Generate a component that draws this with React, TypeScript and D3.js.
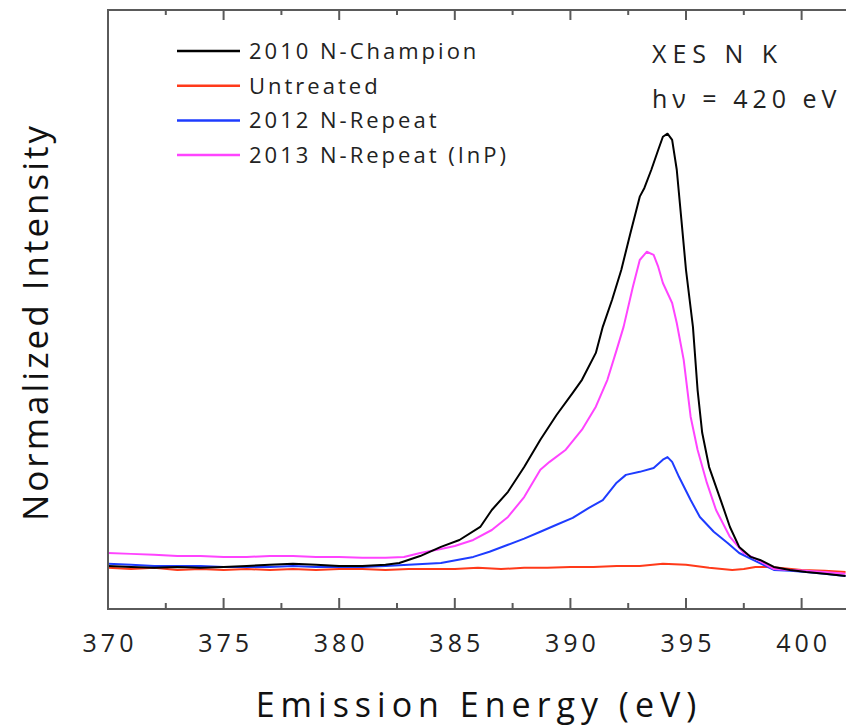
import React from "react";
import * as d3 from "d3";

// ---- data ----
const xTicks = [370, 375, 380, 385, 390, 395, 400];
const xMinorTicks = [372.5, 377.5, 382.5, 387.5, 392.5, 397.5];

const championE = [370, 371, 372, 373, 374, 375, 376, 377, 378, 379, 380, 381, 382, 382.6, 383.5, 384.4, 385.2, 386.1, 386.6, 387.3, 388.0, 388.7, 389.4, 390.1, 390.5, 391.1, 391.4, 391.8, 392.2, 392.6, 393.0, 393.2, 393.5, 393.8, 394.0, 394.2, 394.4, 394.6, 394.8, 395.0, 395.3, 395.5, 395.7, 396.0, 396.5, 396.9, 397.3, 397.8, 398.2, 398.8, 399.5, 400.2, 401, 401.9];
const championI = [0.002, 0, -0.002, 0, -0.002, 0, 0.002, 0.005, 0.007, 0.005, 0.002, 0.002, 0.005, 0.009, 0.025, 0.046, 0.062, 0.092, 0.131, 0.173, 0.23, 0.293, 0.35, 0.401, 0.431, 0.493, 0.553, 0.615, 0.684, 0.77, 0.853, 0.873, 0.915, 0.961, 0.991, 0.998, 0.984, 0.915, 0.8, 0.684, 0.553, 0.408, 0.309, 0.23, 0.154, 0.092, 0.046, 0.023, 0.016, 0, -0.007, -0.012, -0.016, -0.021];

const untreatedE = [370, 371, 372, 373, 374, 375, 376, 377, 378, 379, 380, 381, 382, 383, 384, 385, 386, 387, 388, 389, 390, 391, 392, 393, 394, 395, 396, 397, 397.5, 398, 398.5, 399, 400, 401, 401.9];
const untreatedI = [-0.002, -0.005, -0.002, -0.007, -0.005, -0.007, -0.005, -0.007, -0.005, -0.007, -0.005, -0.005, -0.007, -0.005, -0.005, -0.005, -0.002, -0.005, -0.002, -0.002, 0, 0, 0.002, 0.002, 0.007, 0.005, -0.002, -0.007, -0.005, 0, 0, -0.002, -0.007, -0.009, -0.012];

const repeat2012E = [370, 371, 372, 373, 374, 375, 376, 377, 378, 379, 380, 381, 382, 383, 383.8, 384.4, 385.1, 385.8, 386.5, 387.3, 388.0, 388.7, 389.4, 390.1, 390.8, 391.4, 392.0, 392.4, 393.0, 393.6, 394.0, 394.2, 394.4, 394.7, 395.2, 395.6, 396.2, 396.8, 397.3, 397.9, 398.8, 399.5, 400.2, 401, 401.9];
const repeat2012I = [0.007, 0.005, 0.002, 0.002, 0.002, 0, 0, 0, 0.002, 0, 0, 0, 0.002, 0.005, 0.007, 0.009, 0.016, 0.023, 0.035, 0.051, 0.065, 0.081, 0.097, 0.113, 0.136, 0.154, 0.194, 0.212, 0.219, 0.228, 0.247, 0.253, 0.242, 0.207, 0.154, 0.115, 0.081, 0.055, 0.032, 0.016, -0.007, -0.009, -0.012, -0.016, -0.021];

const repeat2013E = [370, 371, 372, 373, 374, 375, 376, 377, 378, 379, 380, 381, 382, 382.8, 383.5, 384.4, 385.0, 385.8, 386.6, 387.3, 388.0, 388.7, 389.1, 389.8, 390.5, 391.1, 391.6, 392.0, 392.3, 392.7, 393.0, 393.3, 393.6, 393.8, 394.0, 394.4, 394.6, 394.9, 395.2, 395.5, 395.9, 396.3, 396.9, 397.5, 398.1, 398.8, 399.5, 400.2, 401, 401.9];
const repeat2013I = [0.032, 0.03, 0.028, 0.025, 0.025, 0.023, 0.023, 0.025, 0.025, 0.023, 0.023, 0.021, 0.021, 0.023, 0.032, 0.041, 0.048, 0.062, 0.085, 0.115, 0.161, 0.224, 0.242, 0.27, 0.316, 0.369, 0.431, 0.5, 0.553, 0.645, 0.707, 0.726, 0.719, 0.691, 0.654, 0.608, 0.562, 0.477, 0.346, 0.27, 0.194, 0.131, 0.069, 0.032, 0.016, -0.005, -0.007, -0.009, -0.012, -0.016];

const seriesNames = ["2010 N-Champion", "Untreated", "2012 N-Repeat", "2013 N-Repeat (InP)"];
const seriesColors = ["#000000", "#ff3a1a", "#1e3cff", "#ff44ff"];

const W = 846;
const H = 728;
const left = 108;
const right = 846;
const top = 10;
const bottom = 609;
const FONT = "'Open Sans', 'DejaVu Sans', sans-serif";
const AXIS = "#5a5a5a";

export default function App() {
  const x = d3.scaleLinear().domain([370, 401.92]).range([left, right]);
  const y = d3.scaleLinear().domain([-0.097, 1.283]).range([bottom, top]);
  const line = d3
    .line<[number, number]>()
    .x((d) => x(d[0]))
    .y((d) => y(d[1]))
    .curve(d3.curveLinear);

  const series = [
    { e: championE, v: championI },
    { e: untreatedE, v: untreatedI },
    { e: repeat2012E, v: repeat2012I },
    { e: repeat2013E, v: repeat2013I },
  ];
  const drawOrder = [1, 2, 3, 0];

  return (
    <svg
      width={W}
      height={H}
      style={{ position: "absolute", left: 0, top: 0, background: "#fff" }}
    >
      <defs>
        <clipPath id="plot">
          <rect x={left} y={top} width={right - left} height={bottom - top} />
        </clipPath>
      </defs>
      <g clipPath="url(#plot)">
        {drawOrder.map((i) => (
          <path
            key={i}
            d={line(series[i].e.map((e, k) => [e, series[i].v[k]] as [number, number])) || ""}
            fill="none"
            stroke={seriesColors[i]}
            strokeWidth={2}
            strokeLinejoin="round"
          />
        ))}
      </g>

      {/* frame */}
      <line x1={left} x2={right} y1={top} y2={top} stroke={AXIS} strokeWidth={2} />
      <line x1={left} x2={right} y1={bottom} y2={bottom} stroke={AXIS} strokeWidth={2} />
      <line x1={left} x2={left} y1={top - 1} y2={bottom + 1} stroke={AXIS} strokeWidth={2} />

      {/* ticks */}
      {xTicks.map((t) => (
        <g key={"M" + t}>
          <line x1={x(t)} x2={x(t)} y1={bottom} y2={bottom - 11} stroke={AXIS} strokeWidth={2} />
          <line x1={x(t)} x2={x(t)} y1={top} y2={top + 10} stroke={AXIS} strokeWidth={2} />
          <text
            x={x(t) + 2}
            y={652}
            textAnchor="middle"
            fontFamily={FONT}
            fontSize={25}
            letterSpacing={4}
            fill="#222"
          >
            {t}
          </text>
        </g>
      ))}
      {xMinorTicks.map((t) => (
        <g key={"m" + t}>
          <line x1={x(t)} x2={x(t)} y1={bottom} y2={bottom - 6} stroke={AXIS} strokeWidth={2} />
          <line x1={x(t)} x2={x(t)} y1={top} y2={top + 5} stroke={AXIS} strokeWidth={2} />
        </g>
      ))}

      {/* axis titles */}
      <text
        x={479}
        y={717}
        textAnchor="middle"
        fontFamily={FONT}
        fontSize={34}
        letterSpacing={6}
        fill="#111"
      >
        Emission Energy (eV)
      </text>
      <text
        transform="translate(48,322) rotate(-90)"
        textAnchor="middle"
        fontFamily={FONT}
        fontSize={35}
        letterSpacing={3}
        fill="#111"
      >
        Normalized Intensity
      </text>

      {/* legend */}
      {seriesNames.map((n, i) => (
        <g key={n} transform={`translate(0,${51 + i * 34.7})`}>
          <line x1={177} x2={240} y1={0} y2={0} stroke={seriesColors[i]} strokeWidth={2.5} />
          <text
            x={249}
            y={8}
            fontFamily={FONT}
            fontSize={22}
            letterSpacing={3}
            fill="#222"
          >
            {n}
          </text>
        </g>
      ))}

      {/* annotation */}
      <text x={652} y={63} fontFamily={FONT} fontSize={25} letterSpacing={6} fill="#222">
        XES N K
      </text>
      <text x={652} y={108} fontFamily={FONT} fontSize={25} letterSpacing={5} fill="#222">
        hν = 420 eV
      </text>
    </svg>
  );
}
